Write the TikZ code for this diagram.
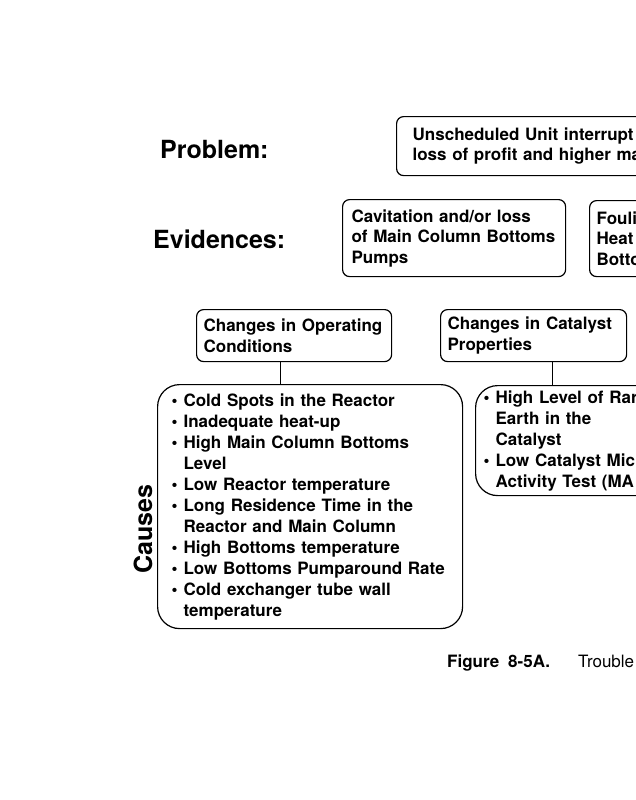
\documentclass[tikz,border=0pt]{standalone}
\usepackage{fontspec}
\setmainfont{TeX Gyre Heros}
\usetikzlibrary{positioning,calc}
\newcommand{\boxfont}{\fontsize{17}{20.5}\selectfont\bfseries}
\newcommand{\listfont}{\fontsize{17}{21}\selectfont\bfseries}
\newcommand{\headfont}{\fontsize{25}{30}\selectfont\bfseries}
\newcommand{\bul}{\makebox[12pt][l]{\textbullet}}
\newcommand{\cont}{\makebox[12pt]{}}
\tikzset{%
  % boxes
  box/.style={draw, line width=1.2pt, rounded corners=7pt, align=left,
    anchor=north west, inner ysep=0pt, font=\boxfont},
  causebox/.style={box, rounded corners=22pt, font=\listfont},
  % labels
  heading/.style={font=\headfont, anchor=base west, inner sep=0pt},
  caption/.style={font=\fontsize{17}{20}\selectfont, anchor=base west, inner sep=0pt},
  % edge styles
  link/.style={line width=1.2pt},
}
\newcommand{\boxnode}[3][]{%
  % #1 = extra TikZ options (place, size)
  % #2 = node name
  % #3 = content
  \node[box, #1] (#2) {#3};
}

\begin{document}
\begin{tikzpicture}[x=1pt, y=-1pt]
  \fill[white] (0,0) rectangle (636,800);
  \useasboundingbox (0,0) rectangle (636,800);
  \clip (0,0) rectangle (636,800);

  % Row labels
  \node[heading] (lprob) at (160,158) {Problem:};
  \node[heading] (levid) at (153,248) {Evidences:};
  \node[heading, rotate=90, anchor=base] (lcause) at (152,529) {Causes};

  % Problem
  \boxnode[at={(396,116)}, inner xsep=16pt, text width=292pt, minimum height=59pt]{prob}{%
    Unscheduled Unit interrupt\\ loss of profit and higher ma};

  % Evidences
  \boxnode[at={(342,199)}, inner xsep=9pt, text width=205pt, minimum height=77pt]{evpump}{%
    Cavitation and/or loss\\ of Main Column Bottoms\\ Pumps};
  \boxnode[at={(589,200)}, inner xsep=7pt, text width=186pt, minimum height=76pt]{evfoul}{%
    Fouli\\ Heat\\ Botto};

  % Cause groups
  \boxnode[at={(196,309)}, inner xsep=7pt, text width=181pt, minimum height=52pt]{grpop}{%
    Changes in Operating\\ Conditions};
  \boxnode[at={(440,309)}, inner xsep=7pt, text width=172pt, minimum height=52pt]{grcat}{%
    Changes in Catalyst\\ Properties};

  % Causes
  \node[causebox, at={(157,384)}, inner xsep=14pt, text width=277pt,
    minimum height=244pt] (csop) {%
    \bul Cold Spots in the Reactor\\
    \bul Inadequate heat-up\\
    \bul High Main Column Bottoms\\
    \cont Level\\
    \bul Low Reactor temperature\\
    \bul Long Residence Time in the\\
    \cont Reactor and Main Column\\
    \bul High Bottoms temperature\\
    \bul Low Bottoms Pumparound Rate\\
    \bul Cold exchanger tube wall\\
    \cont temperature};
  \node[causebox, at={(475,385)}, inner xsep=8pt, text width=234pt,
    minimum height=110pt] (cscat) {%
    \bul High Level of Rar\\
    \cont Earth in the\\
    \cont Catalyst\\
    \bul Low Catalyst Mic\\
    \cont Activity Test (MA};

  % Links
  \draw[link] ($(grpop.south west)!0.43!(grpop.south east)$) coordinate (pop)
    -- (pop |- csop.north);
  \draw[link] ($(grcat.south west)!0.6!(grcat.south east)$) coordinate (pcat)
    -- (pcat |- cscat.north);

  % Caption
  \node[caption] (cap) at (447,667) {\textbf{Figure}\hspace{9pt}\textbf{8-5A.}\hspace{28pt}Trouble};
\end{tikzpicture}
\end{document}
